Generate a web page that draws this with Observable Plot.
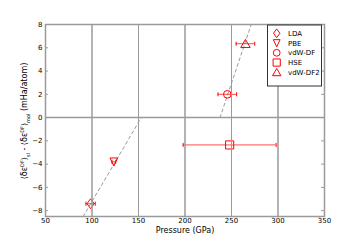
<!DOCTYPE html>
<html>
<head>
<meta charset="utf-8">
<script src="https://cdn.jsdelivr.net/npm/d3@7"></script>
<script src="https://cdn.jsdelivr.net/npm/@observablehq/plot@0.6"></script>
<style>
  html, body { margin: 0; padding: 0; background: #fff; }
  #chart { width: 360px; height: 240px; }
  svg { font-family: "DejaVu Sans", sans-serif; }
</style>
</head>
<body>
<div id="chart"></div>
<script>
// ---- data ----
const methods   = ["LDA", "PBE", "vdW-DF", "HSE", "vdW-DF2"];
const pressures = [98.5, 123.5, 245.5, 248, 265];
const pressErr  = [5, 2, 10, 50, 10];
const energies  = [-7.4, -3.8, 2.0, -2.35, 6.35];
const symbolsOf = ["diamond", "tridown", "circle", "square", "triup"];

const fitLowP  = [90.5, 153];
const fitLowV  = [-8.5, 0];
const fitHighP = [237.6, 271.2];
const fitHighV = [0, 8];

const xTicks = [50, 100, 150, 200, 250, 300, 350];
const yTicks = [-8, -6, -4, -2, 0, 2, 4, 6, 8];

// ---- custom symbols ----
const SYM = {
  diamond: {draw(c, s) { const r = Math.sqrt(s / Math.PI); c.moveTo(0, -r * 1.1); c.lineTo(r * 0.8, 0); c.lineTo(0, r * 1.1); c.lineTo(-r * 0.8, 0); c.closePath(); }},
  tridown: {draw(c, s) { const r = Math.sqrt(s / Math.PI); c.moveTo(-r * 0.85, -r * 0.85); c.lineTo(r * 0.85, -r * 0.85); c.lineTo(0, r * 0.95); c.closePath(); }},
  triup:   {draw(c, s) { const r = Math.sqrt(s / Math.PI); c.moveTo(-r * 1.05, r * 0.85); c.lineTo(r * 1.05, r * 0.85); c.lineTo(0, -r * 0.95); c.closePath(); }},
  circle:  {draw(c, s) { const r = Math.sqrt(s / Math.PI) * 0.85; c.moveTo(r, 0); c.arc(0, 0, r, 0, 2 * Math.PI); }},
  square:  {draw(c, s) { const r = Math.sqrt(s / Math.PI) * 0.9; c.rect(-r, -r, 2 * r, 2 * r); }},
  cap:     {draw(c, s) { c.moveTo(0, -2); c.lineTo(0, 2); }}
};

const rows = methods.map((m, i) => ({
  m, p: pressures[i], e: energies[i], lo: pressures[i] - pressErr[i], hi: pressures[i] + pressErr[i], sym: SYM[symbolsOf[i]]
}));
const fitLow  = fitLowP.map((p, i) => ({p, v: fitLowV[i]}));
const fitHigh = fitHighP.map((p, i) => ({p, v: fitHighV[i]}));

const RED = "#ff0000";
const GRAY = "#9a9a9a";

const plot = Plot.plot({
  width: 360, height: 240,
  marginLeft: 45, marginRight: 36, marginTop: 24, marginBottom: 24,
  style: {fontFamily: "DejaVu Sans, sans-serif", fontSize: "7px", background: "#fff", color: "#000"},
  x: {domain: [50, 350]},
  y: {domain: [-8.5, 8]},
  marks: [
    Plot.ruleY([0], {stroke: GRAY, strokeWidth: 1.5}),
    Plot.line(fitLow,  {x: "p", y: "v", stroke: GRAY, strokeWidth: 1, strokeDasharray: "3,3"}),
    Plot.line(fitHigh, {x: "p", y: "v", stroke: GRAY, strokeWidth: 1, strokeDasharray: "3,3"}),
    Plot.ruleY(rows, {y: "e", x1: "lo", x2: "hi", stroke: RED, strokeWidth: 1, strokeOpacity: 0.7}),
    Plot.dot(rows, {x: "lo", y: "e", symbol: () => SYM.cap, r: 3, stroke: RED, strokeWidth: 1}),
    Plot.dot(rows, {x: "hi", y: "e", symbol: () => SYM.cap, r: 3, stroke: RED, strokeWidth: 1}),
    Plot.dot(rows, {x: "p", y: "e", symbol: "sym", r: 4.5, stroke: RED, fill: "none", strokeWidth: 1}),
    Plot.axisX({anchor: "bottom", ticks: xTicks, tickSize: 0, tickPadding: 2, label: null, tickFormat: d3.format("d")}),
    Plot.axisY({anchor: "left", ticks: yTicks, tickSize: 0, tickPadding: 3, label: null, tickFormat: d => d < 0 ? "\u2212" + Math.abs(d) : String(d)}),
    Plot.tickX(xTicks, {x: d => d, y1: -8.5, y2: -8.18, stroke: GRAY, strokeWidth: 1}),
    Plot.tickX(xTicks, {x: d => d, y1: 8, y2: 7.68, stroke: GRAY, strokeWidth: 1}),
    Plot.ruleY(yTicks, {y: d => d, x1: 50, x2: 53.2, stroke: GRAY, strokeWidth: 1}),
    Plot.ruleY(yTicks, {y: d => d, x1: 350, x2: 346.8, stroke: GRAY, strokeWidth: 1}),
    Plot.frame({stroke: GRAY, strokeWidth: 1.5}),
    Plot.text(["Pressure (GPa)"], {frameAnchor: "bottom", dy: 16.5, fontSize: 8, fill: "#000"})
  ]
});
document.getElementById("chart").appendChild(plot);

// ---- y label with sub/superscripts ----
const svg = d3.select(plot);
const yl = svg.append("text")
  .attr("transform", "translate(27,121) rotate(-90)")
  .attr("text-anchor", "middle")
  .attr("font-size", 8)
  .attr("fill", "#000");
const part = (t, sh, fs) => { const s = yl.append("tspan").text(t); if (sh) s.attr("baseline-shift", sh); if (fs) s.attr("font-size", fs); };
part("\u27E8\u03B4\u03B5");
part("DF", "super", 5);
part("\u27E9");
part("sl", "sub", 5);
part(" - \u27E8\u03B4\u03B5");
part("DF", "super", 5);
part("\u27E9");
part("mol", "sub", 5);
part(" (mHa/atom)");

// ---- legend ----
const lg = svg.append("g").attr("text-anchor", "start");
lg.append("rect").attr("x", 267.5).attr("y", 25).attr("width", 54).attr("height", 61)
  .attr("fill", "#fff").attr("stroke", "#333").attr("stroke-width", 1);
methods.forEach((m, i) => {
  const y = 33.3 + i * 9.75;
  lg.append("path").attr("d", d3.symbol(SYM[symbolsOf[i]], 4 * 4 * Math.PI)())
    .attr("transform", `translate(276.7,${y})`).attr("fill", "none").attr("stroke", RED).attr("stroke-width", 1);
  lg.append("text").attr("x", 288).attr("y", y).attr("dy", "0.35em").attr("text-anchor", "start")
    .attr("font-size", 7).attr("fill", "#000").text(m);
});
</script>
</body>
</html>
